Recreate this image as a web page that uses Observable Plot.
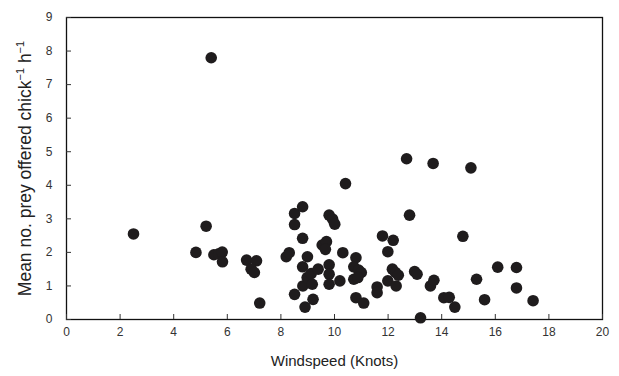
<!DOCTYPE html>
<html>
<head>
<meta charset="utf-8">
<script src="https://cdn.jsdelivr.net/npm/d3@7"></script>
<script src="https://cdn.jsdelivr.net/npm/@observablehq/plot@0.6"></script>
<style>
  body { margin: 0; background: #fff; }
  #chart { width: 619px; height: 376px; }
</style>
</head>
<body>
<div id="chart"></div>
<script>
const windspeed = [2.5, 4.83, 5.21, 5.4, 5.5, 5.68, 5.81, 5.82, 6.72, 7.09, 6.89, 7.01, 7.21,
  8.2, 8.31, 8.51, 8.51, 8.81, 8.81, 8.81, 8.51, 8.82, 8.9, 8.99, 8.98, 9.13, 9.17, 9.2, 9.39,
  9.54, 9.7, 9.66, 9.8, 9.93, 10.01, 9.8, 9.8, 9.8, 10.2, 10.31, 10.41, 10.8, 10.72, 10.9, 11.0,
  10.72, 10.87, 10.8, 11.09, 11.59, 11.59, 11.79, 12.19, 11.99, 11.99, 12.16, 12.28, 12.38, 12.3,
  12.69, 12.8, 12.99, 13.08, 13.21, 13.58, 13.71, 13.68, 14.08, 14.28, 14.49, 14.79, 15.09, 15.3,
  15.6, 16.09, 16.79, 16.79, 17.41];
const preyRate = [2.55, 2.0, 2.78, 7.8, 1.93, 1.96, 2.01, 1.72, 1.77, 1.75, 1.5, 1.4, 0.49,
  1.87, 1.99, 3.16, 2.83, 3.36, 2.42, 1.57, 0.75, 1.0, 0.37, 1.87, 1.25, 1.37, 1.05, 0.6, 1.5,
  2.22, 2.32, 2.09, 3.11, 2.99, 2.84, 1.63, 1.35, 1.05, 1.15, 1.99, 4.05, 1.84, 1.57, 1.47, 1.4,
  1.2, 1.25, 0.65, 0.49, 0.97, 0.8, 2.49, 2.36, 2.02, 1.15, 1.5, 1.4, 1.32, 1.0,
  4.79, 3.11, 1.43, 1.35, 0.05, 1.0, 1.17, 4.65, 0.65, 0.66, 0.37, 2.48, 4.52, 1.2,
  0.59, 1.56, 1.55, 0.94, 0.56];
const xTicks = [0, 2, 4, 6, 8, 10, 12, 14, 16, 18, 20];
const yTicks = [0, 1, 2, 3, 4, 5, 6, 7, 8, 9];
const xLabel = "Windspeed (Knots)";
const yLabel = "Mean no. prey offered chick−1 h−1";

const data = windspeed.map((w, i) => ({w, p: preyRate[i]}));

const chart = Plot.plot({
  width: 619,
  height: 376,
  marginLeft: 66,
  marginRight: 17,
  marginTop: 17,
  marginBottom: 57,
  style: {fontFamily: "'Liberation Sans', Arial, sans-serif", background: "#fff"},
  x: {domain: [0, 20]},
  y: {domain: [0, 9]},
  marks: [
    Plot.frame({stroke: "#111", strokeWidth: 1.3}),
    Plot.axisX({ticks: xTicks, tickSize: -5, tickPadding: 13, fontSize: 12, color: "#333", tickFormat: d => String(d),
      label: xLabel, labelAnchor: "center", labelArrow: "none", labelOffset: 46}),
    Plot.axisY({ticks: yTicks, tickSize: -5, tickPadding: 19, fontSize: 12, color: "#333", tickFormat: d => String(d),
      label: yLabel, labelAnchor: "center", labelArrow: "none", labelOffset: 48}),
    Plot.dot(data, {x: "w", y: "p", r: 5.8, fill: "#1f1c1d", stroke: "none"})
  ]
});
document.getElementById("chart").appendChild(chart);

// label styling and superscripts
const xl = chart.querySelector("g[aria-label='x-axis label'] text");
if (xl) { xl.setAttribute("font-size", "15"); xl.style.fill = "#222"; }
const yl = chart.querySelector("g[aria-label='y-axis label'] text");
if (yl) {
  yl.setAttribute("font-size", "17.5");
  yl.style.fill = "#222";
  const ns = "http://www.w3.org/2000/svg";
  yl.textContent = "";
  const parts = [["Mean no. prey offered chick", 0, null], ["−1", -7, 11], [" h", 7, null], ["−1", -7, 11]];
  parts.forEach(([s, dy, fs]) => {
    const ts = document.createElementNS(ns, "tspan");
    ts.textContent = s;
    if (dy) ts.setAttribute("dy", dy);
    if (fs) ts.setAttribute("font-size", fs);
    yl.appendChild(ts);
  });
}
</script>
</body>
</html>
